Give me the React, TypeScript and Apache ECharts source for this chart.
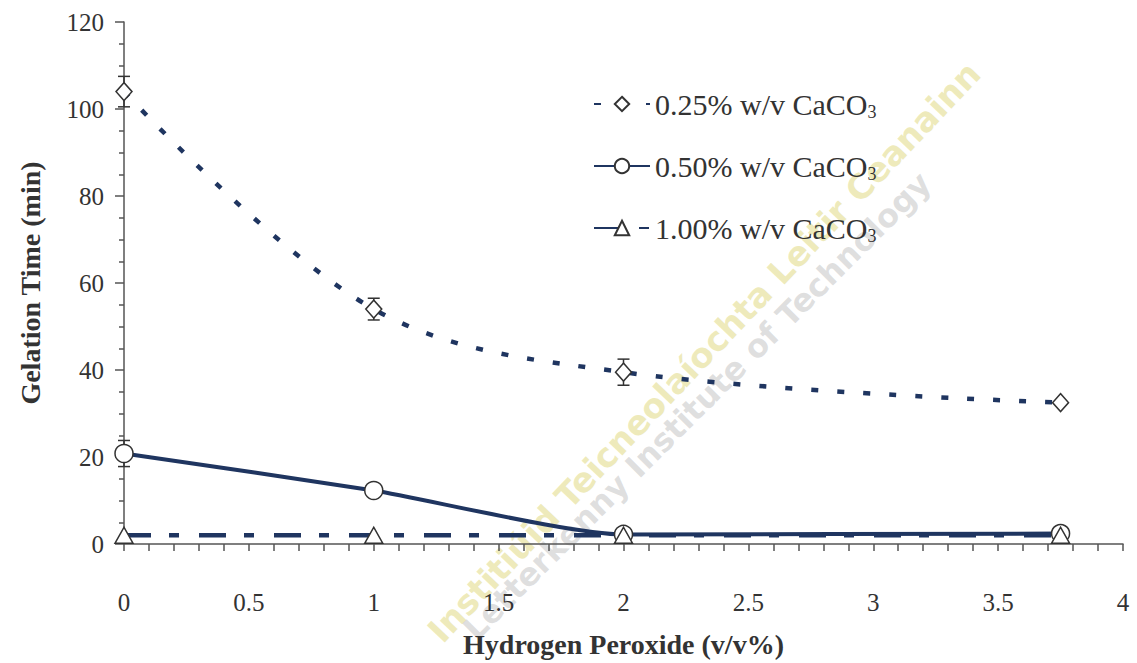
import React, { useEffect, useRef } from "react";
import * as echarts from "echarts";

const xValues = [0, 1, 2, 3.75];
const series025 = [104, 54, 39.5, 32.5];
const series050 = [20.8, 12.3, 2.2, 2.4];
const series100 = [2, 2, 2, 2];
const err025 = [3.5, 2.5, 3, 0];
const err050 = [3, 0, 0, 0];
const seriesNames = ["0.25% w/v CaCO3", "0.50% w/v CaCO3", "1.00% w/v CaCO3"];
const xTicks = ["0", "0.5", "1", "1.5", "2", "2.5", "3", "3.5", "4"];
const yTicks = ["0", "20", "40", "60", "80", "100", "120"];
const xTitle = "Hydrogen Peroxide (v/v%)";
const yTitle = "Gelation Time (min)";
const watermarkA = "Institiúid Teicneolaíochta Leitir Ceanainn";
const watermarkB = "Letterkenny Institute of Technology";

const NAVY = "#1f3560";
const FONT = "Liberation Serif";

function pairs(ys: number[]) {
  return xValues.map((x, i) => [x, ys[i]]);
}

export default function App() {
  const ref = useRef<HTMLDivElement>(null);
  useEffect(() => {
    if (!ref.current) return;
    const chart = echarts.init(ref.current, undefined, { renderer: "svg" });
    const errData: number[][] = [];
    xValues.forEach((x, i) => {
      if (err025[i] > 0) errData.push([x, series025[i] - err025[i], series025[i] + err025[i]]);
      if (err050[i] > 0) errData.push([x, series050[i] - err050[i], series050[i] + err050[i]]);
    });
    const option: any = {
      animation: false,
      backgroundColor: "#ffffff",
      grid: { left: 124, right: 14, top: 22, bottom: 116, containLabel: false },
      graphic: [
        {
          type: "text",
          x: 704,
          y: 352,
          rotation: (46.5 * Math.PI) / 180,
          z: 0,
          silent: true,
          style: {
            text: watermarkA,
            fill: "rgba(222, 214, 120, 0.5)",
            fontFamily: "DejaVu Sans",
            fontWeight: "bold",
            fontSize: 34,
            align: "center",
            verticalAlign: "middle",
          },
        },
        {
          type: "text",
          x: 697,
          y: 406,
          rotation: (45 * Math.PI) / 180,
          z: 0,
          silent: true,
          style: {
            text: watermarkB,
            fill: "rgba(170, 170, 170, 0.38)",
            fontFamily: "DejaVu Sans",
            fontWeight: "bold",
            fontSize: 32,
            align: "center",
            verticalAlign: "middle",
          },
        },
      ],
      legend: {
        orient: "vertical",
        left: 588,
        top: 84,
        itemWidth: 56,
        itemHeight: 18,
        itemGap: 30,
        data: seriesNames,
        formatter: (name: string) => name.replace("CaCO3", "CaCO{sub|3}"),
        textStyle: {
          fontFamily: FONT,
          fontSize: 30,
          color: "#333",
          rich: {
            sub: { fontFamily: FONT, fontSize: 18, color: "#333", padding: [16, 0, 0, 0] },
          },
        },
      },
      xAxis: {
        type: "value",
        min: 0,
        max: 4,
        interval: 0.5,
        name: xTitle,
        nameLocation: "middle",
        nameGap: 86,
        nameTextStyle: { fontFamily: FONT, fontSize: 28, fontWeight: "bold", color: "#333" },
        axisLine: { show: true, lineStyle: { color: "#555", width: 1.5 } },
        axisTick: { show: true, length: 7, lineStyle: { color: "#555", width: 1.5 } },
        minorTick: { show: true, splitNumber: 5, length: 7, lineStyle: { color: "#555", width: 1.5 } },
        splitLine: { show: false },
        axisLabel: {
          margin: 46,
          fontFamily: FONT,
          fontSize: 25,
          color: "#333",
          formatter: (v: number) => xTicks[Math.round(v / 0.5)] ?? "",
        },
      },
      yAxis: {
        type: "value",
        min: 0,
        max: 120,
        interval: 20,
        name: yTitle,
        nameLocation: "middle",
        nameGap: 80,
        nameTextStyle: { fontFamily: FONT, fontSize: 28, fontWeight: "bold", color: "#333" },
        axisLine: { show: true, lineStyle: { color: "#555", width: 1.5 } },
        axisTick: { show: true, length: 9, lineStyle: { color: "#555", width: 1.5 } },
        minorTick: { show: true, splitNumber: 4, length: 5, lineStyle: { color: "#555", width: 1.5 } },
        splitLine: { show: false },
        axisLabel: {
          margin: 20,
          fontFamily: FONT,
          fontSize: 25,
          color: "#333",
          formatter: (v: number) => yTicks[Math.round(v / 20)] ?? "",
        },
      },
      series: [
        {
          name: seriesNames[0],
          type: "line",
          data: pairs(series025),
          smooth: 0.35,
          symbol: "diamond",
          symbolSize: [16, 18],
          z: 3,
          lineStyle: { color: NAVY, width: 4.5, type: [7, 19] },
          itemStyle: { color: "#ffffff", borderColor: "#333", borderWidth: 1.5 },
        },
        {
          name: seriesNames[1],
          type: "line",
          data: pairs(series050),
          smooth: 0.2,
          symbol: "circle",
          symbolSize: 18,
          z: 3,
          lineStyle: { color: NAVY, width: 4 },
          itemStyle: { color: "#ffffff", borderColor: "#333", borderWidth: 1.5 },
        },
        {
          name: seriesNames[2],
          type: "line",
          data: pairs(series100),
          symbol: "triangle",
          symbolSize: [18, 16],
          z: 3,
          lineStyle: { color: NAVY, width: 4.5, type: [27, 18, 10, 20] },
          itemStyle: { color: "#ffffff", borderColor: "#333", borderWidth: 1.5 },
        },
        {
          name: "error",
          type: "custom",
          data: errData,
          z: 2,
          silent: true,
          renderItem: (params: any, api: any) => {
            const x = api.value(0);
            const lo = api.coord([x, api.value(1)]);
            const hi = api.coord([x, api.value(2)]);
            const w = 6;
            const st = { stroke: "#333", lineWidth: 1.5 };
            return {
              type: "group",
              children: [
                { type: "line", shape: { x1: lo[0], y1: lo[1], x2: hi[0], y2: hi[1] }, style: st },
                { type: "line", shape: { x1: lo[0] - w, y1: lo[1], x2: lo[0] + w, y2: lo[1] }, style: st },
                { type: "line", shape: { x1: hi[0] - w, y1: hi[1], x2: hi[0] + w, y2: hi[1] }, style: st },
              ],
            };
          },
        },
      ],
    };
    chart.setOption(option);
    return () => chart.dispose();
  }, []);
  return <div ref={ref} style={{ width: 1137, height: 663, position: "absolute", left: 0, top: 0 }} />;
}
